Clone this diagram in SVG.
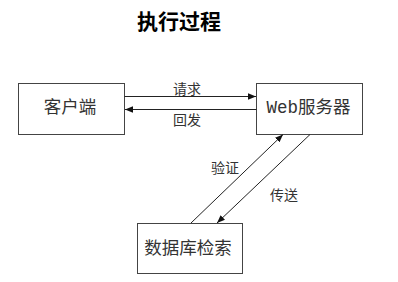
<svg xmlns="http://www.w3.org/2000/svg" width="398" height="282" viewBox="0 0 398 282">
<style>
.box{fill:#fff;stroke:#444;stroke-width:1}
.ln{stroke:#222;stroke-width:1;fill:none}
.t{font-family:"Liberation Mono","Noto Sans CJK SC",monospace;font-size:17.5px;fill:#333;text-anchor:middle;dominant-baseline:central}
.s{font-family:"Noto Sans CJK SC",sans-serif;font-size:14px;fill:#333;text-anchor:middle;dominant-baseline:central}
.title{font-family:"Noto Sans CJK SC",sans-serif;font-size:21px;font-weight:bold;fill:#000;text-anchor:middle;dominant-baseline:central}
</style>
<defs>
<marker id="ah" viewBox="0 0 10 10" refX="10" refY="5" markerWidth="8" markerHeight="8" markerUnits="userSpaceOnUse" orient="auto">
<path d="M0,1 L10,5 L0,9 Z" fill="#111"/>
</marker>
</defs>
<rect width="398" height="282" fill="#fff"/>
<text class="title" x="179" y="20">执行过程</text>
<g id="client"><rect class="box" x="18.5" y="83.5" width="106" height="51"/><text class="t" x="70" y="108">客户端</text></g>
<g id="web"><rect class="box" x="256.5" y="83.5" width="106" height="51"/><text class="t" x="308.5" y="108">Web服务器</text></g>
<g id="db"><rect class="box" x="137.5" y="223.5" width="105" height="50"/><text class="t" x="188" y="248.5">数据库检索</text></g>
<g id="connectors">
<line class="ln" x1="124.5" y1="96.5" x2="256" y2="96.5" marker-end="url(#ah)"/>
<line class="ln" x1="256.5" y1="109.5" x2="125" y2="109.5" marker-end="url(#ah)"/>
<line class="ln" x1="191" y1="223" x2="283" y2="134.5" marker-end="url(#ah)"/>
<line class="ln" x1="310" y1="134.5" x2="217" y2="223" marker-end="url(#ah)"/>
<text class="s" x="187" y="87.5">请求</text>
<text class="s" x="187" y="119">回发</text>
<text class="s" x="225" y="167">验证</text>
<text class="s" x="284" y="194">传送</text>
</g>
</svg>
